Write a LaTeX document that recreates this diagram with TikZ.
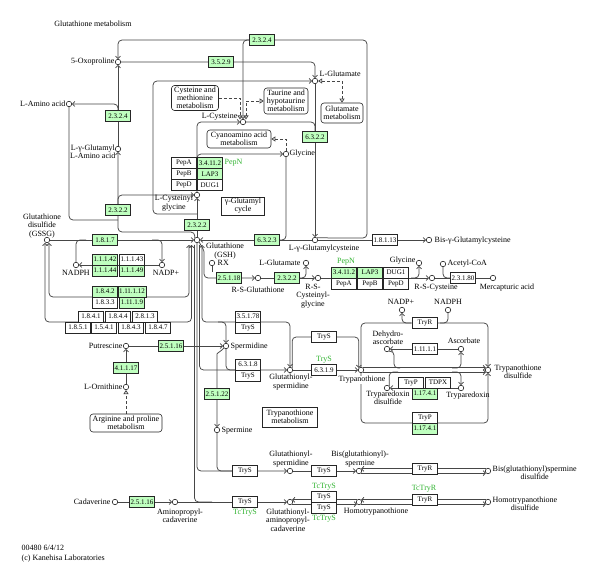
\documentclass[tikz,border=0pt]{standalone}
\usepackage{fontspec}
\setmainfont{Liberation Serif}
\usetikzlibrary{arrows.meta}
\definecolor{kgreen}{HTML}{BFFFBF}
\definecolor{ktext}{RGB}{50,180,50}
\definecolor{kline}{RGB}{70,70,70}
\pgfdeclarelayer{bg}
\pgfsetlayers{bg,main}
\tikzset{
  cpd/.style={circle,draw=black!85,fill=white,line width=0.6pt,inner sep=0pt,minimum size=5.5pt},
  lbl/.style={font=\fontsize{8}{8.3}\selectfont,inner sep=0.5pt,align=center},
  enz/.style={draw=black!85,fill=white,line width=0.5pt,font=\fontsize{7}{7}\selectfont,minimum width=25pt,minimum height=11pt,inner sep=1pt},
  genz/.style={enz,fill=kgreen},
  gtxt/.style={lbl,text=ktext},
  mapbox/.style={draw=black!85,fill=white,line width=0.6pt,rounded corners=3pt,font=\fontsize{8}{8}\selectfont,align=center,inner sep=1pt},
  plainbox/.style={mapbox,rounded corners=0pt},
  rxn/.style={draw=kline,line width=0.75pt,rounded corners=4pt},
  arr/.style={-{Straight Barb[length=2.2pt,width=5pt]}},
  barr/.style={{Straight Barb[length=2.2pt,width=5pt]}-{Straight Barb[length=2.2pt,width=5pt]}},
  dsh/.style={draw=kline,line width=0.75pt,dash pattern=on 3pt off 2pt},
  tri/.style={-{Triangle[open,length=4pt,width=5pt]}},
  btri/.style={{Triangle[open,length=4pt,width=5pt]}-{Triangle[open,length=4pt,width=5pt]}},
}
\begin{document}
\begin{tikzpicture}[x=1pt,y=-1pt]
\useasboundingbox (0,0) rectangle (600,585);
\begin{pgfonlayer}{bg}
\fill[white] (0,0) rectangle (600,585);
\end{pgfonlayer}
% ---------------- compounds
\node[cpd] (oxo) at (118,62) {};
\node[cpd] (aa) at (69,104) {};
\node[cpd] (ggaa) at (118,149) {};
\node[cpd] (glu) at (315,81) {};
\node[cpd] (cys) at (243,122) {};
\node[cpd] (gly) at (286,154) {};
\node[cpd] (cysgly) at (197,195) {};
\node[cpd] (gsh) at (197,240) {};
\node[cpd] (gssg) at (47,240) {};
\node[cpd] (nadph) at (76,265) {};
\node[cpd] (nadp) at (162,265) {};
\node[cpd] (ggc) at (315,240) {};
\node[cpd] (bisggc) at (429,240) {};
\node[cpd] (rx) at (212,263) {};
\node[cpd] (rsg) at (258,278) {};
\node[cpd] (glub) at (306,263) {};
\node[cpd] (rscg) at (318,278) {};
\node[cpd] (glyb) at (419,263) {};
\node[cpd] (rscys) at (432,278) {};
\node[cpd] (acoa) at (443,264) {};
\node[cpd] (merc) at (493,278) {};
\node[cpd] (put) at (126,346) {};
\node[cpd] (orn) at (126,387) {};
\node[cpd] (spd) at (226,346) {};
\node[cpd] (spm) at (217,430) {};
\node[cpd] (gsp) at (290,370) {};
\node[cpd] (tryp) at (361,370) {};
\node[cpd] (tryss) at (488,370) {};
\node[cpd] (nadpb) at (402,310) {};
\node[cpd] (nadphb) at (448,310) {};
\node[cpd] (dha) at (387,349) {};
\node[cpd] (asc) at (461,349) {};
\node[cpd] (txnss) at (387,388) {};
\node[cpd] (txn) at (461,388) {};
\node[cpd] (gspb) at (290,471) {};
\node[cpd] (bgs) at (359,471) {};
\node[cpd] (bgsss) at (488,471) {};
\node[cpd] (cad) at (115,502) {};
\node[cpd] (apc) at (175,502) {};
\node[cpd] (gapc) at (290,502) {};
\node[cpd] (htryp) at (359,502) {};
\node[cpd] (htss) at (488,502) {};
% ---------------- labels
\node[lbl] (title) at (93,24) {Glutathione metabolism};
\node[lbl,anchor=east] (loxo) at (115,62) {5-Oxoproline};
\node[lbl,anchor=east] (laa) at (66,104) {L-Amino acid};
\node[lbl,anchor=east] (lggaa) at (116,152) {L-γ-Glutamyl\\L-Amino acid};
\node[lbl,anchor=west] (lglu) at (319,74) {L-Glutamate};
\node[lbl,anchor=east] (lcys) at (238,117) {L-Cysteine};
\node[lbl,anchor=west] (lgly) at (289,154) {Glycine};
\node[lbl] (lcysgly) at (174,203) {L-Cysteinyl\\glycine};
\node[lbl] (lgsh) at (225,251) {Glutathione\\(GSH)};
\node[lbl] (lgssg) at (42,226) {Glutathione\\disulfide\\(GSSG)};
\node[lbl] (lnadph) at (76,273) {NADPH};
\node[lbl] (lnadp) at (166,273) {NADP+};
\node[lbl] (lggc) at (324,249) {L-γ-Glutamylcysteine};
\node[lbl,anchor=west] (lbisggc) at (434,241) {Bis-γ-Glutamylcysteine};
\node[lbl,anchor=west] (lrx) at (217,263) {RX};
\node[lbl,anchor=east] (lglub) at (301,263) {L-Glutamate};
\node[lbl] (lrsg) at (258,290) {R-S-Glutathione};
\node[lbl] (lrscg) at (313,296) {R-S-\\Cysteinyl-\\glycine};
\node[lbl,anchor=east] (lglyb) at (416,261) {Glycine};
\node[lbl,anchor=west] (lacoa) at (447,264) {Acetyl-CoA};
\node[lbl] (lrscys) at (436,288) {R-S-Cysteine};
\node[lbl] (lmerc) at (507,288) {Mercapturic acid};
\node[lbl,anchor=east] (lput) at (123,346) {Putrescine};
\node[lbl,anchor=east] (lorn) at (123,387) {L-Ornithine};
\node[lbl,anchor=west] (lspd) at (230,347) {Spermidine};
\node[lbl,anchor=west] (lspm) at (221,431) {Spermine};
\node[lbl] (lgsp) at (291,382) {Glutathionyl-\\spermidine};
\node[lbl,fill=white] (ltryp) at (362,380) {Trypanothione};
\node[lbl] (ltryss) at (518,372) {Trypanothione\\disulfide};
\node[lbl] (lnadpb) at (401,302) {NADP+};
\node[lbl] (lnadphb) at (448,302) {NADPH};
\node[lbl] (ldha) at (388,338) {Dehydro-\\ascorbate};
\node[lbl] (lasc) at (464,341) {Ascorbate};
\node[lbl] (ltxnss) at (388,398) {Tryparedoxin\\disulfide};
\node[lbl] (ltxn) at (468,396) {Tryparedoxin};
\node[lbl] (lgspb) at (291,459) {Glutathionyl-\\spermidine};
\node[lbl] (lbgs) at (360,459) {Bis(glutathionyl)-\\spermine};
\node[lbl,anchor=west] (lbgsss) at (492,473) {Bis(glutathionyl)spermine\\disulfide};
\node[lbl,anchor=east] (lcad) at (111,502) {Cadaverine};
\node[lbl] (lapc) at (180,516) {Aminopropyl-\\cadaverine};
\node[lbl] (lgapc) at (288,520) {Glutathionyl-\\aminopropyl-\\cadaverine};
\node[lbl] (lhtryp) at (376,512) {Homotrypanothione};
\node[lbl,anchor=west] (lhtss) at (492,504) {Homotrypanothione\\disulfide};
\node[lbl,anchor=west] (lid) at (21,548) {00480 6/4/12};
\node[lbl,anchor=west] (lcopy) at (21,559) {(c) Kanehisa Laboratories};
% ---------------- map boxes
\node[mapbox,minimum width=47pt,minimum height=25pt] (cysmet) at (195,98) {Cysteine and\\methionine\\metabolism};
\node[mapbox,minimum width=44pt,minimum height=26pt] (taurine) at (286,101) {Taurine and\\hypotaurine\\metabolism};
\node[mapbox,minimum width=42pt,minimum height=20pt] (glumet) at (342,113) {Glutamate\\metabolism};
\node[mapbox,minimum width=64pt,minimum height=18pt] (cyano) at (239,139) {Cyanoamino acid\\metabolism};
\node[mapbox,minimum width=72pt,minimum height=18pt] (argpro) at (126,423) {Arginine and proline\\metabolism};
\node[plainbox,minimum width=43pt,minimum height=18pt] (gcycle) at (243,206) {γ-Glutamyl\\cycle};
\node[plainbox,minimum width=55pt,minimum height=20pt] (trymet) at (290,417) {Trypanothione\\metabolism};
% ---------------- enzymes
\node[genz] (e2324a) at (262,40) {2.3.2.4};
\node[genz] (e3529) at (221,62) {3.5.2.9};
\node[genz] (e2324b) at (118,116) {2.3.2.4};
\node[genz] (e6322) at (315,137) {6.3.2.2};
\node[genz] (e2322a) at (118,210) {2.3.2.2};
\node[genz] (e2322b) at (197,225) {2.3.2.2};
\node[enz] (pepA) at (184,163) {PepA};
\node[enz] (pepB) at (184,174) {PepB};
\node[enz] (pepD) at (184,185) {PepD};
\node[genz] (e34112) at (210,163) {3.4.11.2};
\node[genz] (lap3) at (210,174) {LAP3};
\node[enz] (dug1) at (210,185) {DUG1};
\node[gtxt,anchor=west] (tpepn) at (224,163) {PepN};
\node[genz] (e1817) at (105,240) {1.8.1.7};
\node[genz] (e11142) at (105,259.5) {1.1.1.42};
\node[enz] (e11143) at (132,259.5) {1.1.1.43};
\node[genz] (e11144) at (105,270.5) {1.1.1.44};
\node[genz] (e11149) at (132,270.5) {1.1.1.49};
\node[genz] (e6323) at (267,240) {6.3.2.3};
\node[enz] (e18113) at (385,240) {1.8.1.13};
\node[genz] (e2518) at (229,278) {2.5.1.18};
\node[genz] (e2322c) at (287,278) {2.3.2.2};
\node[gtxt] (tpepnb) at (346,262) {PepN};
\node[genz] (e34112b) at (344,272.5) {3.4.11.2};
\node[genz] (lap3b) at (370,272.5) {LAP3};
\node[enz] (dug1b) at (396,272.5) {DUG1};
\node[enz] (pepAb) at (344,283.5) {PepA};
\node[enz] (pepBb) at (370,283.5) {PepB};
\node[enz] (pepDb) at (396,283.5) {PepD};
\node[enz] (e23180) at (463,278) {2.3.1.80};
\node[genz] (e1842) at (105,291.5) {1.8.4.2};
\node[genz] (e111112) at (132,291.5) {1.11.1.12};
\node[enz] (e1833) at (105,302.5) {1.8.3.3};
\node[genz] (e11119) at (132,302.5) {1.11.1.9};
\node[enz] (e1841) at (91,316.5) {1.8.4.1};
\node[enz] (e1844) at (118,316.5) {1.8.4.4};
\node[enz] (e2813) at (145,316.5) {2.8.1.3};
\node[enz] (e1851) at (78,327.5) {1.8.5.1};
\node[enz] (e1541) at (104,327.5) {1.5.4.1};
\node[enz] (e1843) at (131,327.5) {1.8.4.3};
\node[enz] (e1847) at (158,327.5) {1.8.4.7};
\node[genz] (e25116a) at (171,346) {2.5.1.16};
\node[genz] (e41117) at (126,368) {4.1.1.17};
\node[enz] (e35178) at (248,316.5) {3.5.1.78};
\node[enz] (trysA) at (248,327.5) {TryS};
\node[enz] (e6318) at (248,364.5) {6.3.1.8};
\node[enz] (trysB) at (248,375.5) {TryS};
\node[genz] (e25122) at (217,394) {2.5.1.22};
\node[enz] (trysC) at (324,337) {TryS};
\node[enz] (e6319) at (324,370) {6.3.1.9};
\node[gtxt] (ttrys) at (324,360) {TryS};
\node[enz] (tryrA) at (425,323) {TryR};
\node[enz] (e11111) at (425,349) {1.11.1.1};
\node[enz] (trypA) at (411,382.5) {TryP};
\node[enz] (tdpx) at (438,382.5) {TDPX};
\node[genz] (e117241a) at (425,393.5) {1.17.4.1};
\node[enz] (trypB) at (425,417.5) {TryP};
\node[genz] (e117241b) at (425,428.5) {1.17.4.1};
\node[enz] (trysD) at (245,471) {TryS};
\node[enz] (trysE) at (324,471) {TryS};
\node[enz] (tryrB) at (425,469) {TryR};
\node[enz] (trysF) at (245,502) {TryS};
\node[gtxt] (ttctrysA) at (245,513) {TcTryS};
\node[enz] (trysG) at (324,497) {TryS};
\node[enz] (trysH) at (324,508) {TryS};
\node[gtxt] (ttctrysB) at (324,487) {TcTryS};
\node[gtxt] (ttctrysC) at (324,519) {TcTryS};
\node[enz] (tryrC) at (425,500) {TryR};
\node[gtxt] (ttctryr) at (424,489) {TcTryR};
\node[genz] (e25116b) at (142,502) {2.5.1.16};
% ---------------- connectors
\begin{pgfonlayer}{bg}
% gamma-glutamyl cycle top
\draw[rxn,arr] (ggc.north east) -- (367,238) -- (367,40) -- (118,40) -- (oxo.north);
\draw[rxn,arr] (250,40) -| (cys.north);
\draw[rxn,arr] (ggaa.north) -- (oxo.south);
\draw[rxn,arr] (118,114) |- (aa.east);
\draw[rxn] (aa.south) |- (118,220);
\draw[rxn,arr] (gsh.north west) |- (118,232) -- (ggaa.south);
\draw[rxn,arr] (118,205) |- (cysgly.west);
\draw[rxn,arr] (gsh.north) -- (cysgly.south);
\draw[rxn,arr] (197,214) -| (153,81) -- (glu.west);
\draw[rxn,arr] (cysgly.north) |- (cys.west);
\draw[rxn,arr] (197,160) |- (gly.west);
\draw[rxn] (gly.south) |- (e6323.east);
\draw[rxn,arr] (ggc.west) -- (gsh.east);
\draw[rxn,arr] (glu.south) -- (ggc.north);
\draw[rxn] (cys.east) -| (315,132);
\draw[rxn,arr] (oxo.east) -| (glu.north);
\draw[dsh,btri] (glu.east) -| (glumet.north);
\draw[dsh,tri] (gly.north) |- (cyano.east);
\draw[dsh,tri] (cysmet.east) -| (240,119.5);
\draw[dsh,btri] (246,119.5) |- (taurine.west);
\draw[rxn,arr] (ggc.east) -- (bisggc.west);
% GSH / GSSG
\draw[rxn,arr] (gssg.east) -- (gsh.west);
\draw[rxn] (nadph.north) |- (86,240);
\draw[rxn,arr] (152,240) -| (nadp.north);
\draw[rxn,arr] (nadp.west) -- (nadph.east);
\draw[rxn,barr] (189,245) -- (189,297) -- (49,297) -- (49,243);
\draw[rxn,barr] (191.5,245) -- (191.5,322) -- (45,322) -- (45,243);
% lines leaving GSH downwards
\draw[rxn] (194.5,245) |- (212,502);
\draw[rxn,arr] (gsh.south) |- (gspb.west);
\draw[rxn,arr] (199.5,245) |- (gsp.west);
\draw[rxn,barr] (202,245) |- (290,322) -- (gsp.north);
\draw[rxn,arr] (gsh.south east) to[out=-60,in=90] (204,256) |- (rsg.west);
% polyamines
\draw[rxn,arr] (218,322) -| (spd.north);
\draw[rxn] (spd.south) |- (236,370);
\draw[rxn,arr] (spd.south west) to[out=225,in=90] (217,358) -- (spm.north);
\draw[rxn] (spm.south) |- (trysD.west);
\draw[rxn,arr] (gsp.north east) |- (trysC.center) -| (tryp.north west);
\draw[rxn,arr] (gsp.east) -- (tryp.west);
\draw[rxn,arr] (put.east) -- (spd.west);
\draw[rxn,arr] (orn.north) -- (put.south);
\draw[dsh,tri] (argpro.north) -- (orn.south);
% trypanothione cycle
\draw[rxn,arr] (tryp.north) |- (488,323) -- (tryss.north);
\draw[rxn,arr] (tryp.south) |- (488,423) -- (tryss.south);
\draw[rxn,arr] (tryp.north east) -- (tryss.north west);
\draw[rxn,arr] (tryp.south east) -- (tryss.south west);
\draw[rxn,arr] (411,323) -| (nadpb.south);
\draw[rxn] (nadphb.south) |- (440,323);
\draw[rxn,arr] (asc.west) -- (dha.east);
\draw[rxn] (dha.south east) -| (394,368) -- (400,368);
\draw[rxn,arr] (452,368) -| (asc.south);
\draw[rxn,arr] (txn.west) -- (txnss.east);
\draw[rxn] (txnss.north east) |- (398,372);
\draw[rxn,arr] (452,372) -| (txn.north);
% mercapturic acid branch
\draw[rxn] (rx.south) -- (rx.south |- e2518.north);
\draw[rxn,arr] (rsg.east) -- (rscg.west);
\draw[rxn,arr] (299,278) -| (glub.south);
\draw[rxn,arr] (rscg.east) -- (rscys.west);
\draw[rxn,arr] (411,278) -| (glyb.south);
\draw[rxn] (rscys.east) -- (merc.west);
\draw[rxn] (acoa.south) |- (e23180.west);
% bottom rows
\draw[rxn,arr] (gspb.east) -- (bgs.west);
\draw[rxn,arr] (bgsss.north west) -- (bgs.north east);
\draw[rxn,arr] (bgs.south east) -- (bgsss.south west);
\draw[rxn,arr] (cad.east) -- (apc.west);
\draw[rxn,arr] (apc.east) -- (gapc.west);
\draw[rxn,arr] (htryp.north west) -- (gapc.north east);
\draw[rxn,arr] (gapc.south east) -- (htryp.south west);
\draw[rxn,arr] (htss.north west) -- (htryp.north east);
\draw[rxn,arr] (htryp.south east) -- (htss.south west);
\end{pgfonlayer}
\end{tikzpicture}
\end{document}
